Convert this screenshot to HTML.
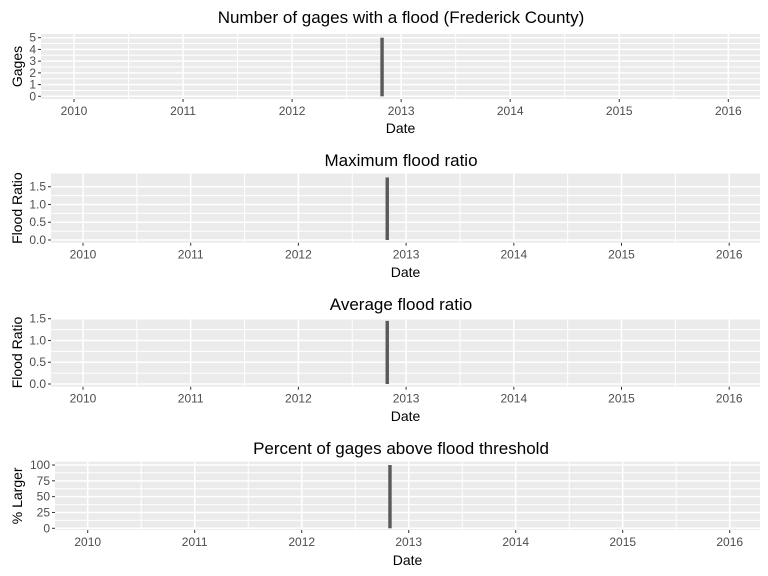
<!DOCTYPE html>
<html><head><meta charset="utf-8"><style>
html,body{margin:0;padding:0;background:#fff;}
svg{display:block;font-family:"Liberation Sans",Arial,sans-serif;}
</style></head><body>
<svg id="chart" width="768" height="576" viewBox="0 0 768 576" xmlns="http://www.w3.org/2000/svg"></svg>
<script>
// Data
const panelTitles = ["Number of gages with a flood (Frederick County)", "Maximum flood ratio", "Average flood ratio", "Percent of gages above flood threshold"];
const yAxisTitles = ["Gages", "Flood Ratio", "Flood Ratio", "% Larger"];
const eventDates = [2012.825];
const gagesValues = [5];
const maxRatioValues = [1.76];
const avgRatioValues = [1.45];
const percentValues = [100];
const yearTicks = [2010, 2011, 2012, 2013, 2014, 2015, 2016];
const gagesTicks = [0, 1, 2, 3, 4, 5];
const ratioTicks = [0.0, 0.5, 1.0, 1.5];
const percentTicks = [0, 25, 50, 75, 100];

const NS = "http://www.w3.org/2000/svg";
const svg = document.getElementById("chart");
function mk(tag, attrs, parent) {
  const e = document.createElementNS(NS, tag);
  for (const k in attrs) e.setAttribute(k, attrs[k]);
  (parent || svg).appendChild(e);
  return e;
}

const layouts = [
  {left:41, right:760, top:34, bottom:99, x2010:74, pxYear:109.05, y0:96.3, yRef:5, yRefPx:37.7, titleY:23, dateY:133, vals:gagesValues, ticks:gagesTicks, dec:0},
  {left:51, right:760, top:173.5, bottom:242.7, x2010:83, pxYear:107.7, y0:240, yRef:1.5, yRefPx:186.7, titleY:166, dateY:277, vals:maxRatioValues, ticks:ratioTicks, dec:1},
  {left:51, right:760, top:318.3, bottom:386.7, x2010:83, pxYear:107.7, y0:384, yRef:1.5, yRefPx:318.7, titleY:310, dateY:421, vals:avgRatioValues, ticks:ratioTicks, dec:1},
  {left:55, right:760, top:461.7, bottom:530, x2010:87.7, pxYear:107.0, y0:528.3, yRef:100, yRefPx:465, titleY:454, dateY:565, vals:percentValues, ticks:percentTicks, dec:0}
];

layouts.forEach((L, i) => {
  const g = mk("g", {});
  
  
  const xs = v => L.x2010 + (v - 2010) * L.pxYear;
  const ys = v => L.y0 - v * (L.y0 - L.yRefPx) / L.yRef;

  const bg = mk("rect", {x:L.left, y:L.top, width:L.right - L.left, height:L.bottom - L.top, fill:"#ebebeb"}, g);
  
  

  for (let k = 0; k < L.ticks.length - 1; k++) {
    const mv = (L.ticks[k] + L.ticks[k + 1]) / 2;
    mk("line", {x1:L.left, x2:L.right, y1:ys(mv), y2:ys(mv), stroke:"#fff", "stroke-width":1}, g);
  }
  for (let k = 0; k < yearTicks.length; k++) {
    const px = xs(yearTicks[k] + 0.5);
    if (px < L.right) mk("line", {x1:px, x2:px, y1:L.top, y2:L.bottom, stroke:"#fff", "stroke-width":1}, g);
  }
  L.ticks.forEach(t => {
    const py = ys(t);
    mk("line", {x1:L.left, x2:L.right, y1:py, y2:py, stroke:"#fff", "stroke-width":1.5}, g);
    mk("line", {x1:L.left - 3, x2:L.left, y1:py, y2:py, stroke:"#333", "stroke-width":1}, g);
    const lab = mk("text", {x:L.left - 5, y:py + 4, "text-anchor":"end", "font-size":12, fill:"#4d4d4d"}, g);
    lab.textContent = t.toFixed(L.dec);
    
    
  });
  yearTicks.forEach(t => {
    const px = xs(t);
    mk("line", {x1:px, x2:px, y1:L.top, y2:L.bottom, stroke:"#fff", "stroke-width":1.5}, g);
    mk("line", {x1:px, x2:px, y1:L.bottom, y2:L.bottom + 3, stroke:"#333", "stroke-width":1}, g);
    const lab = mk("text", {x:px, y:L.bottom + 16, "text-anchor":"middle", "font-size":12, fill:"#4d4d4d"}, g);
    lab.textContent = t;
    
    
  });
  eventDates.forEach((d, k) => {
    const px = xs(d);
    const bar = mk("rect", {x:px - 1.7, y:ys(L.vals[k]), width:3.4, height:ys(0) - ys(L.vals[k]), fill:"#595959"}, g);
    
    
  });
  const tt = mk("text", {x:401, y:L.titleY, "text-anchor":"middle", "font-size":17, fill:"#000"}, g);
  tt.textContent = panelTitles[i];
  
  
  const xt = mk("text", {x:(L.left + L.right) / 2, y:L.dateY, "text-anchor":"middle", "font-size":14, fill:"#000"}, g);
  xt.textContent = "Date";
  
  
  const cy = (L.top + L.bottom) / 2;
  const yt = mk("text", {x:0, y:0, transform:"translate(22," + cy + ") rotate(-90)", "text-anchor":"middle", "font-size":14, fill:"#000"}, g);
  yt.textContent = yAxisTitles[i];
  
  
});
</script>
</body></html>
